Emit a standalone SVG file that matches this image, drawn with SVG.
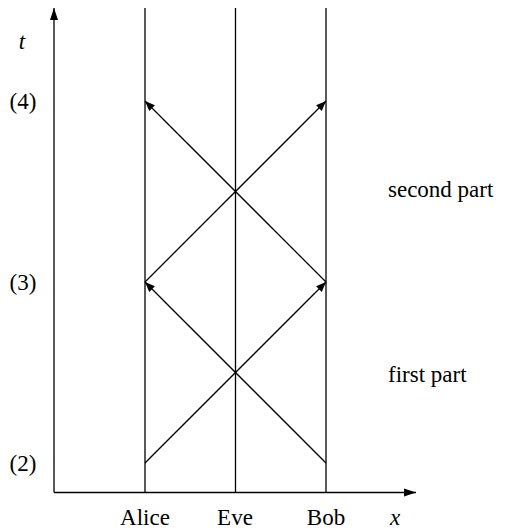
<svg xmlns="http://www.w3.org/2000/svg" width="523" height="532" viewBox="0 0 523 532">
<defs>
<marker id="ah" viewBox="0 0 10 10" refX="10" refY="5" markerWidth="10" markerHeight="10" markerUnits="userSpaceOnUse" orient="auto">
<path d="M0,1 L10,5 L0,9 Z" fill="#000"/>
</marker>
<marker id="ax" viewBox="0 0 12 10" refX="12" refY="5" markerWidth="12" markerHeight="10" markerUnits="userSpaceOnUse" orient="auto">
<path d="M0,1 L12,5 L0,9 Z" fill="#000"/>
</marker>
</defs>
<style>
.l{stroke:#000;stroke-width:1.3;fill:none}
</style>
<rect width="523" height="532" fill="#fff"/>
<g id="axes">
<line class="l" x1="54" y1="492.5" x2="54" y2="8" marker-end="url(#ax)"/>
<line class="l" x1="54" y1="492.5" x2="416" y2="492.5" marker-end="url(#ax)"/>
</g>
<g id="worldlines">
<line class="l" x1="145" y1="492.5" x2="145" y2="8"/>
<line class="l" x1="235.5" y1="492.5" x2="235.5" y2="8"/>
<line class="l" x1="326" y1="492.5" x2="326" y2="8"/>
</g>
<g id="connectors">
<line class="l" x1="145" y1="463" x2="326" y2="282" marker-end="url(#ah)"/>
<line class="l" x1="326" y1="463" x2="145" y2="282" marker-end="url(#ah)"/>
<line class="l" x1="145" y1="282" x2="326" y2="101" marker-end="url(#ah)"/>
<line class="l" x1="326" y1="282" x2="145" y2="101" marker-end="url(#ah)"/>
</g>
<g id="labels" font-family="Liberation Serif, Times New Roman, serif" font-size="23" fill="#000">
<text font-style="italic" x="22" y="49" text-anchor="middle">t</text>
<text x="23" y="109" text-anchor="middle">(4)</text>
<text x="23" y="290" text-anchor="middle">(3)</text>
<text x="23" y="471" text-anchor="middle">(2)</text>
<text x="388" y="197">second part</text>
<text x="388" y="382">first part</text>
<text x="145" y="525" text-anchor="middle">Alice</text>
<text x="235" y="525" text-anchor="middle">Eve</text>
<text x="326" y="525" text-anchor="middle">Bob</text>
<text font-style="italic" x="395" y="525" text-anchor="middle">x</text>
</g>
</svg>
